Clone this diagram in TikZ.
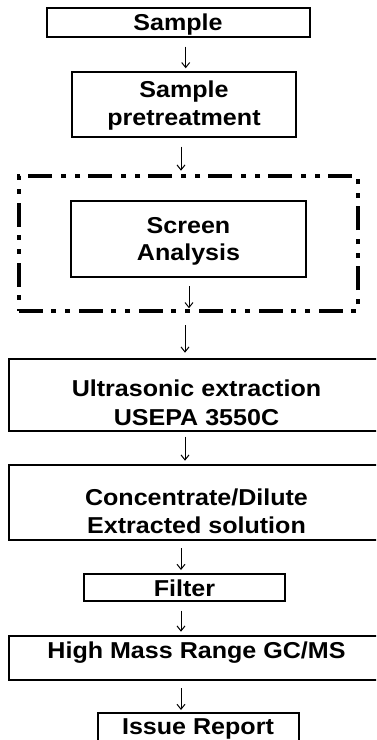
\documentclass[tikz,border=0pt]{standalone}
\usepackage{fontspec}
\newfontfamily\boxfont{Liberation Sans}[FakeStretch=1.09]
\usetikzlibrary{arrows.meta}
\begin{document}
\begin{tikzpicture}[x=1pt,y=-1pt,
  box/.style={draw,line width=2pt,inner sep=0pt,outer sep=0pt},
  dashbox/.style={draw,line width=3.6pt,inner sep=0pt,outer sep=0pt,
    dash pattern=on 24pt off 8pt on 5pt off 9pt on 5pt off 9pt},
  txt/.style={inner sep=0pt,anchor=base,font=\boxfont\bfseries\fontsize{23}{28}\selectfont},
  arr/.style={line width=1pt,-{Straight Barb[length=5pt,width=8pt]}}]
\useasboundingbox (0,0) rectangle (376,740);
\clip (0,0) rectangle (376,740);
% boxes
\node[box,minimum width=263pt,minimum height=29pt] (b1) at (178,22.5) {};
\node[box,minimum width=224pt,minimum height=65pt] (b2) at (184,104.5) {};
\node[dashbox,minimum width=339pt,minimum height=135pt] (scr) at (188.5,243.5) {};
\node[box,minimum width=235pt,minimum height=76pt] (b3) at (188.5,239) {};
\node[box,minimum width=375pt,minimum height=72pt] (b4) at (196.5,395) {};
\node[box,minimum width=375pt,minimum height=75pt] (b5) at (196.5,502.5) {};
\node[box,minimum width=201pt,minimum height=27pt] (b6) at (184.5,587.5) {};
\node[box,minimum width=375pt,minimum height=44pt] (b7) at (196.5,658) {};
\node[box,minimum width=201pt,minimum height=37pt] (b8) at (198.5,731) {};
% texts
\node[txt] (t1) at (178,30) {Sample};
\node[txt] (t2a) at (184,97.7) {Sample};
\node[txt] (t2b) at (184,125) {pretreatment};
\node[txt] (t3a) at (188.5,233.3) {Screen};
\node[txt] (t3b) at (188.5,260) {Analysis};
\node[txt] (t4a) at (196.5,396.7) {Ultrasonic extraction};
\node[txt] (t4b) at (196.5,425) {USEPA 3550C};
\node[txt] (t5a) at (196.5,505.5) {Concentrate/Dilute};
\node[txt] (t5b) at (196.5,533.5) {Extracted solution};
\node[txt] (t6) at (184.5,596.7) {Filter};
\node[txt] (t7) at (196.5,658.3) {High Mass Range GC/MS};
\node[txt] (t8) at (198,734.5) {Issue Report};
% arrows
\draw[arr,shorten <=9.7pt,shorten >=3.7pt] ([xshift=7.7pt]b1.south) -- ([xshift=7.7pt]b1.south |- b2.north);
\draw[arr,shorten <=9.7pt,shorten >=5.3pt] ([xshift=-3pt]b2.south) -- ([xshift=-3pt]b2.south |- scr.north);
\draw[arr,shorten <=9pt,shorten >=2.7pt] ([xshift=0.5pt]b3.south) -- ([xshift=0.5pt]b3.south |- scr.south);
\draw[arr,shorten <=14pt,shorten >=6.3pt] ([xshift=-3.5pt]scr.south) -- ([xshift=-3.5pt]scr.south |- b4.north);
\draw[arr,shorten <=5.7pt,shorten >=4.3pt] ([xshift=-11.5pt]b4.south) -- ([xshift=-11.5pt]b4.south |- b5.north);
\draw[arr,shorten <=8.3pt,shorten >=4pt] ([xshift=-15.5pt]b5.south) -- ([xshift=-15.5pt]b5.south |- b6.north);
\draw[arr,shorten <=9.7pt,shorten >=4.3pt] ([xshift=-3.5pt]b6.south) -- ([xshift=-3.5pt]b6.south |- b7.north);
\draw[arr,shorten <=8.3pt,shorten >=2.5pt] ([xshift=-15.5pt]b7.south) -- ([xshift=-15.5pt]b7.south |- b8.north);
\end{tikzpicture}
\end{document}
